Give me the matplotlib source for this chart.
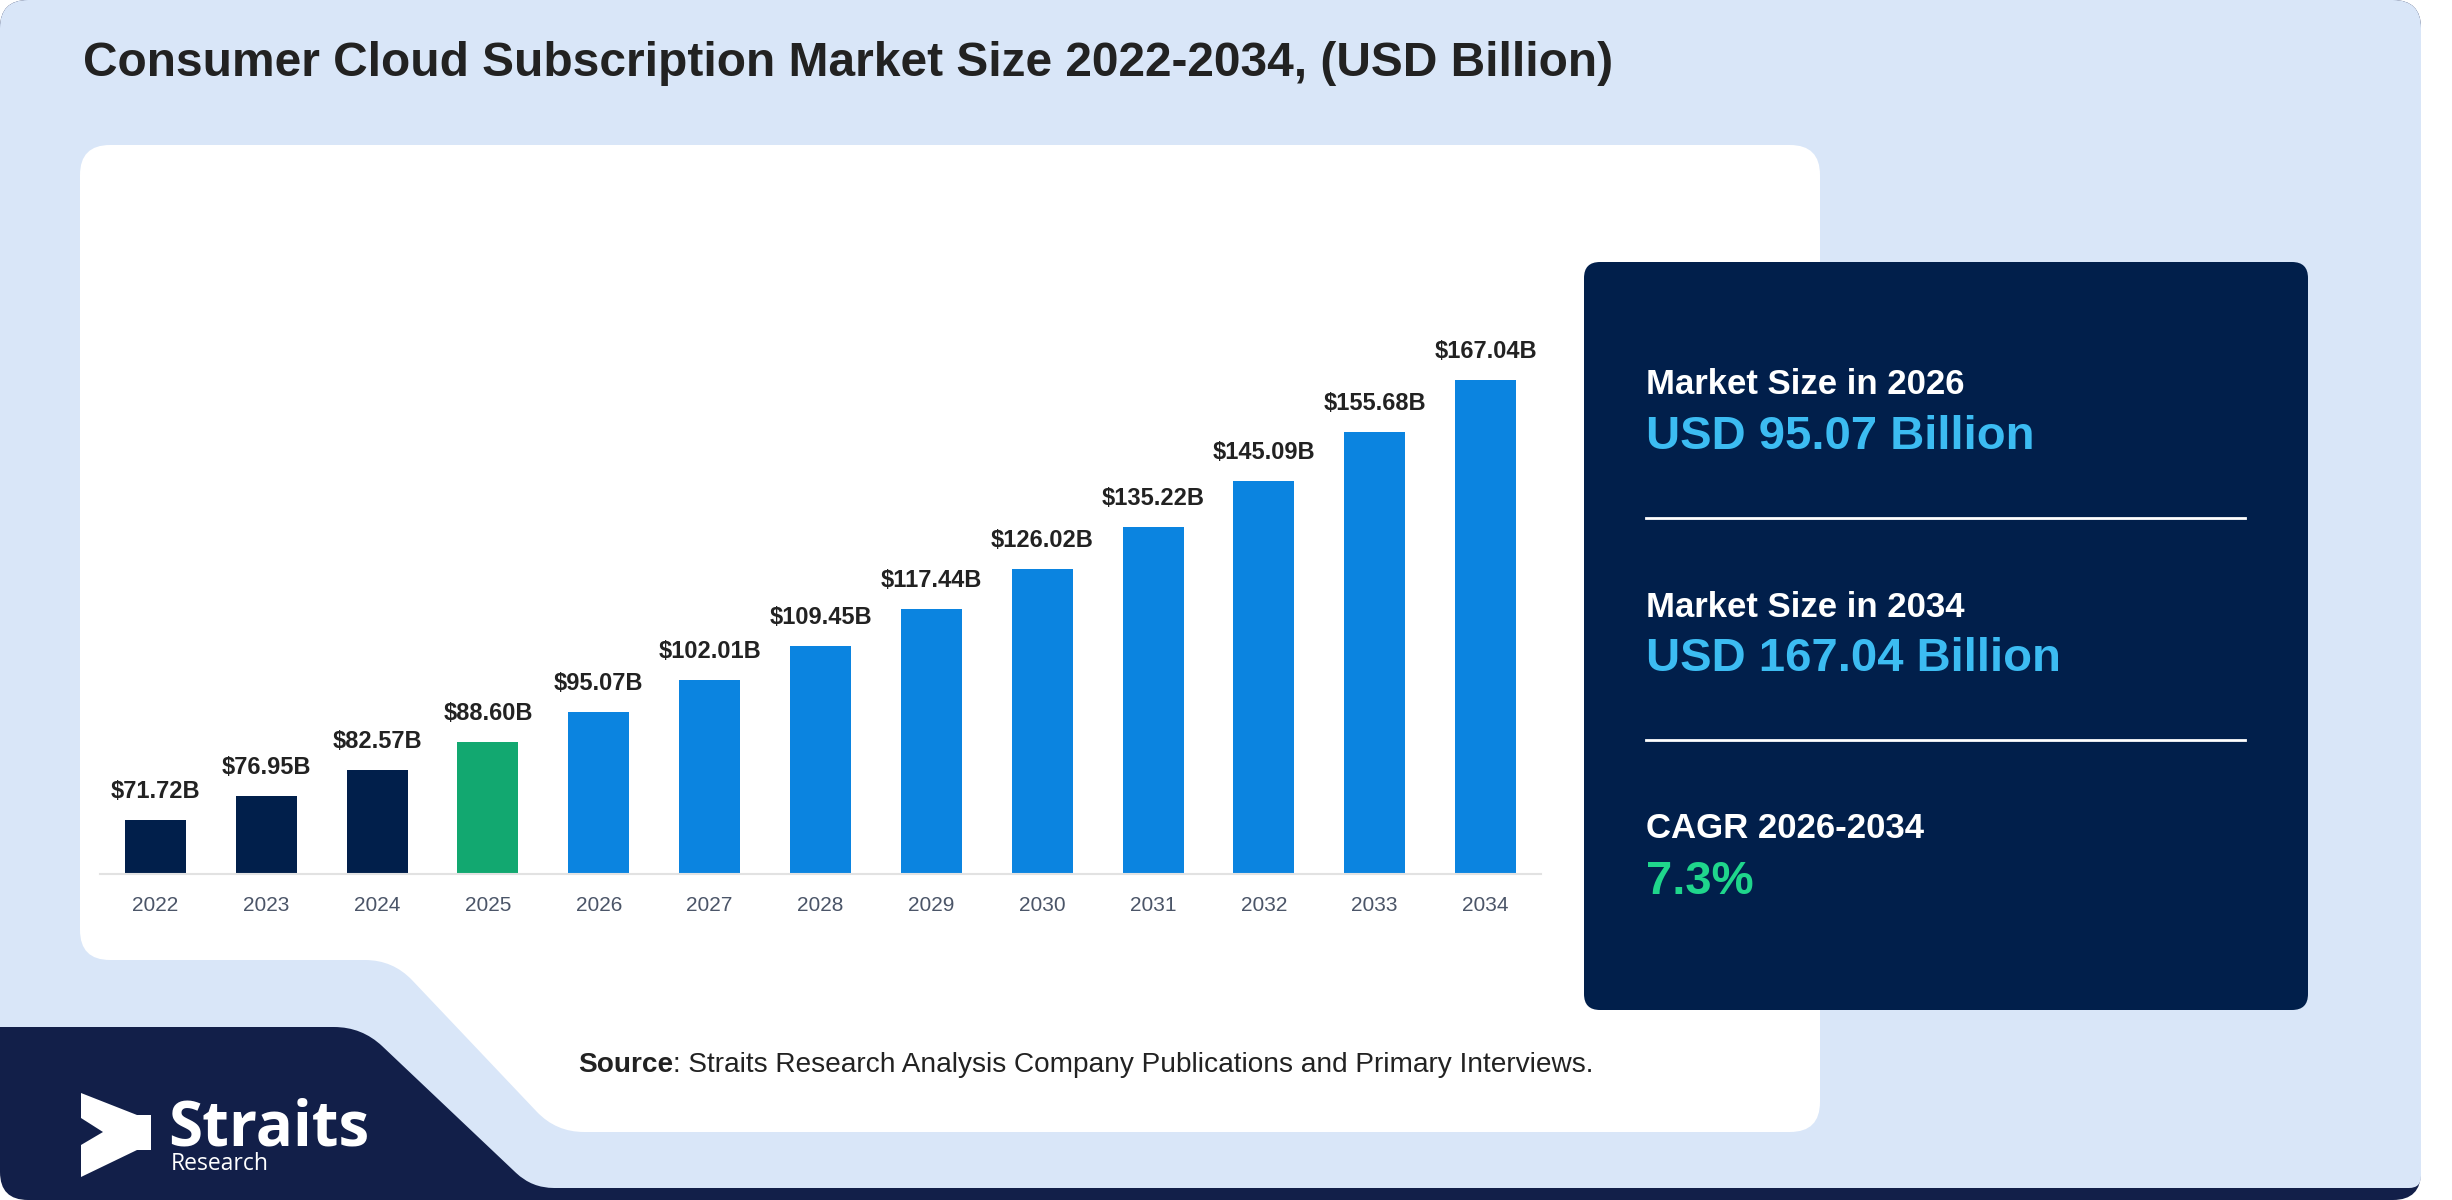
import numpy as np
import matplotlib.pyplot as plt
from matplotlib.path import Path
from matplotlib.patches import PathPatch, Polygon

# Data ------------------------------------------------
years = ['2022', '2023', '2024', '2025', '2026', '2027', '2028',
         '2029', '2030', '2031', '2032', '2033', '2034']
values = [71.72, 76.95, 82.57, 88.60, 95.07, 102.01, 109.45,
          117.44, 126.02, 135.22, 145.09, 155.68, 167.04]
bar_labels = ['$71.72B', '$76.95B', '$82.57B', '$88.60B', '$95.07B', '$102.01B', '$109.45B',
              '$117.44B', '$126.02B', '$135.22B', '$145.09B', '$155.68B', '$167.04B']
title = 'Consumer Cloud Subscription Market Size 2022-2034, (USD Billion)'
stat_heads = ['Market Size in 2026', 'Market Size in 2034', 'CAGR 2026-2034']
stat_values = ['USD 95.07 Billion', 'USD 167.04 Billion', '7.3%']
source_head = 'Source'
source_rest = ': Straits Research Analysis Company Publications and Primary Interviews.'

# Colours ---------------------------------------------
NAVY = '#011f4b'
NAVY_BAND = '#121f49'
GREEN_BAR = '#12a870'
BLUE_BAR = '#0b84e0'
BG = '#d9e6f8'
LIGHT_BLUE_TXT = '#3cbcf2'
GREEN_TXT = '#1fd68c'
bar_colors = [NAVY] * 3 + [GREEN_BAR] + [BLUE_BAR] * 9
stat_colors = [LIGHT_BLUE_TXT, LIGHT_BLUE_TXT, GREEN_TXT]

W, H = 2452, 1200
plt.rcParams['font.family'] = ['Liberation Sans', 'DejaVu Sans']


def rounded_path(pts, radii):
    # polygon with each corner rounded by a quadratic curve
    pts = np.asarray(pts, float)
    n = len(pts)
    verts, codes = [], []
    for i in range(n):
        p0, p1, p2 = pts[i - 1], pts[i], pts[(i + 1) % n]
        d1 = (p0 - p1) / np.hypot(*(p0 - p1))
        d2 = (p2 - p1) / np.hypot(*(p2 - p1))
        a = p1 + d1 * radii[i]
        b = p1 + d2 * radii[i]
        verts.append(a)
        codes.append(Path.MOVETO if i == 0 else Path.LINETO)
        verts += [p1, b]
        codes += [Path.CURVE3, Path.CURVE3]
    verts.append(verts[0])
    codes.append(Path.CLOSEPOLY)
    return Path(verts, codes)


def px_axes(x0, y0, x1, y1):
    # axes box given in pixels (y from top)
    return [x0 / W, 1 - y1 / H, (x1 - x0) / W, (y1 - y0) / H]


fig = plt.figure(figsize=(W / 100, H / 100), dpi=100, facecolor='white')
bg = fig.add_axes([0, 0, 1, 1])
bg.set_xlim(0, W)
bg.set_ylim(H, 0)
bg.axis('off')

# background shapes
outer = rounded_path([(0, 0), (2421, 0), (2421, 1200), (0, 1200)], [28, 28, 28, 28])
bg.add_patch(PathPatch(outer, fc=NAVY_BAND, ec='none'))
light = rounded_path([(0, 0), (2421, 0), (2421, 1188), (532, 1188), (362, 1027), (0, 1027)],
                     [28, 28, 12, 22, 28, 0])
bg.add_patch(PathPatch(light, fc=BG, ec='none'))
panel = rounded_path([(80, 145), (1820, 145), (1820, 1132), (556, 1132), (393, 960), (80, 960)],
                     [30, 30, 30, 28, 28, 30])
bg.add_patch(PathPatch(panel, fc='white', ec='none'))
box = rounded_path([(1584, 262), (2308, 262), (2308, 1010), (1584, 1010)], [16, 16, 16, 16])
bg.add_patch(PathPatch(box, fc=NAVY, ec='none'))

# title
bg.text(83, 76, title, fontsize=34.5, fontweight='bold', color='#222222', va='baseline')

# stats box
head_y = [394, 617, 838]
val_y = [449, 671, 894]
for i in range(3):
    bg.text(1646, head_y[i], stat_heads[i], fontsize=25, fontweight='bold', color='white', va='baseline')
    bg.text(1646, val_y[i], stat_values[i], fontsize=34, fontweight='bold', color=stat_colors[i], va='baseline')
for y in [518, 740]:
    bg.plot([1646, 2245], [y, y], color='white', lw=2)

# source line
t_src = bg.text(578, 1072, source_head, fontsize=20.2, fontweight='bold', color='#222222', va='baseline')
fig.canvas.draw()
src_w = t_src.get_window_extent().width
bg.text(578 + src_w, 1072, source_rest, fontsize=20.2, color='#222222', va='baseline')

# logo
arrow = [(81, 1093), (137, 1115), (151, 1115), (151, 1150), (137, 1150), (81, 1177),
         (81, 1145), (103, 1132), (81, 1118)]
bg.add_patch(Polygon(arrow, closed=True, fc='white', ec='none'))
bg.text(168, 1145, 'Straits', fontsize=44.5, fontweight='bold', color='white', va='baseline',
        family=['Open Sans', 'DejaVu Sans'])
bg.text(171, 1170, 'Research', fontsize=16.5, color='white', va='baseline',
        family=['Open Sans', 'DejaVu Sans'])

# bar chart
ax = fig.add_axes(px_axes(100, 297, 1541, 874))
ax.patch.set_alpha(0)
x = np.arange(len(years))
ax.bar(x, values, width=0.55, color=bar_colors, zorder=2)
for xi, v, lab in zip(x, values, bar_labels):
    ax.annotate(lab, (xi, v), xytext=(0, 16), textcoords='offset points', ha='center',
                va='baseline', fontsize=17, fontweight='bold', color='#222222')
ax.set_xlim(-0.5, 12.5)
ax.set_ylim(60, 185)
ax.set_xticks(x)
ax.set_xticklabels(years, fontsize=15, color='#4b5568')
ax.tick_params(axis='x', length=0, pad=16)
ax.set_yticks([])
for side in ['top', 'right', 'left']:
    ax.spines[side].set_visible(False)
ax.spines['bottom'].set_color('#e2e2e2')
ax.spines['bottom'].set_linewidth(1.5)

fig.savefig('out.png', dpi=100)
